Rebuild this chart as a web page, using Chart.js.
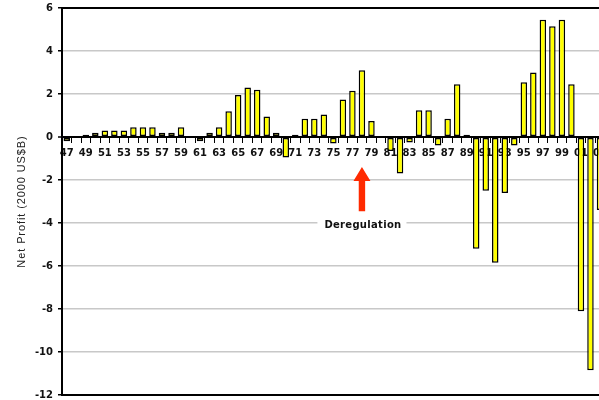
<!DOCTYPE html>
<html>
<head>
<meta charset="utf-8">
<script src="https://cdn.jsdelivr.net/npm/chart.js@4.4.1/dist/chart.umd.min.js"></script>
<style>
  html, body { margin: 0; padding: 0; background: #fff; overflow: hidden; width: 599px; height: 400px; }
  #wrap { width: 612px; height: 400px; }
</style>
</head>
<body>
<div id="wrap"><canvas id="c" width="612" height="400"></canvas></div>
<script>
// ---- data ----
const years = ['47','48','49','50','51','52','53','54','55','56','57','58','59','60',
  '61','62','63','64','65','66','67','68','69','70','71','72','73','74','75','76',
  '77','78','79','80','81','82','83','84','85','86','87','88','89','90','91','92',
  '93','94','95','96','97','98','99','00','01','02','03'];
const netProfit = [-0.2, 0, 0.1, 0.2, 0.3, 0.3, 0.3, 0.45, 0.45, 0.45, 0.2, 0.2, 0.45, 0,
  -0.2, 0.2, 0.45, 1.2, 1.95, 2.3, 2.2, 0.95, 0.2, -0.95, 0.1, 0.85, 0.85, 1.05, -0.3, 1.75,
  2.15, 3.1, 0.75, 0, -0.65, -1.7, -0.25, 1.25, 1.25, -0.4, 0.85, 2.45, 0.1, -5.2, -2.5, -5.85,
  -2.6, -0.4, 2.55, 3.0, 5.45, 5.15, 5.45, 2.45, -8.1, -10.85, -3.4];
const yAxisTitle = 'Net Profit (2000 US$B)';
const yMin = -12, yMax = 6, yStep = 2;
const annotationText = 'Deregulation';
const annotationYear = '78';
const arrowTipValue = -1.4, arrowHeadBaseValue = -2.05, arrowTailValue = -3.45, annotationTextValue = -4.1;

const FONT = '"DejaVu Sans", "Liberation Sans", sans-serif';

const borderPlugin = {
  id: 'plotBorder',
  afterDatasetsDraw(chart) {
    const {ctx, chartArea: a} = chart;
    ctx.save();
    ctx.strokeStyle = '#000';
    ctx.lineWidth = 2;
    ctx.strokeRect(a.left, a.top, a.right - a.left, a.bottom - a.top);
    ctx.restore();
  }
};

const titlePlugin = {
  id: 'yTitle',
  afterDraw(chart) {
    const {ctx, chartArea: a} = chart;
    ctx.save();
    ctx.translate(22, (a.top + a.bottom) / 2);
    ctx.rotate(-Math.PI / 2);
    ctx.font = '11px "Liberation Sans", Arial, sans-serif';
    if ('letterSpacing' in ctx) ctx.letterSpacing = '0.9px';
    ctx.fillStyle = '#222';
    ctx.textAlign = 'center';
    ctx.textBaseline = 'middle';
    ctx.fillText(yAxisTitle, 0, 0);
    ctx.restore();
  }
};

const annotationPlugin = {
  id: 'dereg',
  afterDatasetsDraw(chart) {
    const {ctx} = chart;
    const xs = chart.scales.x, ys = chart.scales.y;
    const x = xs.getPixelForValue(years.indexOf(annotationYear));
    const yTip = ys.getPixelForValue(arrowTipValue);
    const yBase = ys.getPixelForValue(arrowHeadBaseValue);
    const yTail = ys.getPixelForValue(arrowTailValue);
    const yText = ys.getPixelForValue(annotationTextValue);
    ctx.save();
    ctx.fillStyle = '#ff2a00';
    ctx.beginPath();
    ctx.moveTo(x, yTip);
    ctx.lineTo(x + 8.5, yBase);
    ctx.lineTo(x + 3.2, yBase);
    ctx.lineTo(x + 3.2, yTail);
    ctx.lineTo(x - 3.2, yTail);
    ctx.lineTo(x - 3.2, yBase);
    ctx.lineTo(x - 8.5, yBase);
    ctx.closePath();
    ctx.fill();
    ctx.font = 'bold 10px ' + FONT;
    if ('letterSpacing' in ctx) ctx.letterSpacing = '0.3px';
    const w = ctx.measureText(annotationText).width;
    ctx.fillStyle = '#fff';
    ctx.fillRect(x - w / 2 - 6, yText - 6, w + 12, 12);
    ctx.fillStyle = '#111';
    ctx.textAlign = 'center';
    ctx.textBaseline = 'middle';
    ctx.fillText(annotationText, x + 1, yText);
    ctx.restore();
  }
};

new Chart(document.getElementById('c'), {
  type: 'bar',
  data: {
    labels: years,
    datasets: [{
      data: netProfit,
      backgroundColor: '#ffff00',
      borderColor: '#000',
      borderWidth: 1.5,
      borderSkipped: false,
      categoryPercentage: 1,
      barPercentage: 0.68
    }]
  },
  options: {
    responsive: false,
    animation: false,
    devicePixelRatio: 1,
    layout: { padding: { left: 0, right: 6, top: 8, bottom: 5 } },
    plugins: { legend: { display: false }, tooltip: { enabled: false } },
    scales: {
      x: {
        type: 'category',
        position: { y: 0 },
        offset: true,
        grid: { display: true, drawOnChartArea: false, drawTicks: true, tickLength: 5, tickColor: '#000', tickWidth: 1, offset: true },
        border: { display: true, color: '#000', width: 2 },
        ticks: {
          autoSkip: false, maxRotation: 0, minRotation: 0, padding: 5,
          color: '#111',
          font: { family: FONT, size: 10, weight: 'bold' },
          callback: function(v, i) { return (i % 2 === 0) ? this.getLabelForValue(v) : ''; }
        }
      },
      y: {
        min: yMin, max: yMax,
        afterFit(s) { s.width = 62; s.paddingTop = 0; s.paddingBottom = 0; },
        ticks: { stepSize: yStep, padding: 5, color: '#111', font: { family: FONT, size: 10, weight: 'bold' } },
        grid: {
          color: (c) => (c.tick && c.tick.value === 0) ? '#000' : '#c8c8c8',
          lineWidth: (c) => (c.tick && c.tick.value === 0) ? 2 : 1.5,
          tickColor: '#000', tickLength: 4, tickWidth: 1.5
        },
        border: { display: true, color: '#000', width: 2 },
        title: { display: false }
      }
    }
  },
  plugins: [borderPlugin, annotationPlugin, titlePlugin]
});
</script>
</body>
</html>
